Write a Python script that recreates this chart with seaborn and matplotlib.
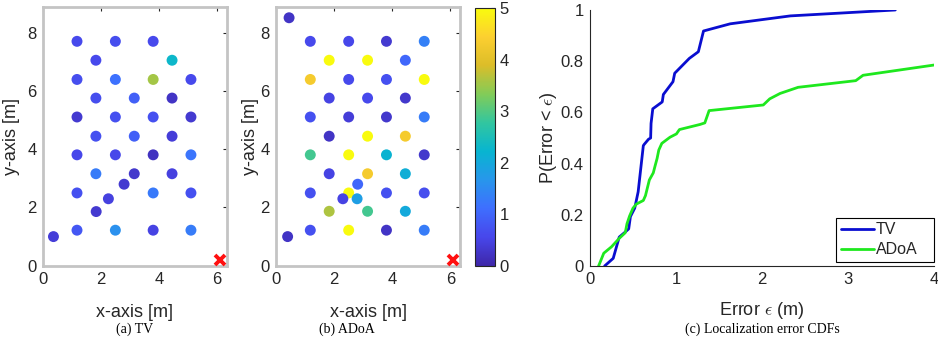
import numpy as np
import pandas as pd
import matplotlib
matplotlib.use("Agg")
import matplotlib.pyplot as plt
import seaborn as sns
from matplotlib.colors import LinearSegmentedColormap, Normalize
from matplotlib.cm import ScalarMappable

sns.set_theme(style="white")
plt.rcParams.update({
    'font.family': ['Liberation Sans', 'DejaVu Sans'],
    'font.size': 12,
    'axes.labelsize': 13,
    'xtick.labelsize': 12,
    'ytick.labelsize': 12,
    'text.color': '#262626',
    'axes.labelcolor': '#262626',
    'xtick.color': '#262626',
    'ytick.color': '#262626',
    'xtick.direction': 'in',
    'ytick.direction': 'in',
    'mathtext.fontset': 'cm',
})

# parula-like colormap (10 anchors)
parula_anchors = [
    (0.2422, 0.1504, 0.6603), (0.2803, 0.2782, 0.9221), (0.2440, 0.4358, 0.9988),
    (0.1540, 0.5902, 0.9218), (0.0297, 0.7082, 0.8163), (0.1938, 0.7758, 0.6251),
    (0.5044, 0.7993, 0.3480), (0.8634, 0.7406, 0.1596), (0.9892, 0.8136, 0.1885),
    (0.9763, 0.9831, 0.0538),
]
parula = LinearSegmentedColormap.from_list('parula', parula_anchors)

# TV: test positions and localisation error (m)
tv_x = [1.18, 2.50, 3.80, 1.83, 4.45, 1.18, 2.50, 3.80, 5.10, 1.83, 3.15, 4.45,
        1.18, 2.50, 3.80, 5.10, 1.83, 3.15, 4.45, 1.18, 2.50, 3.80, 5.10,
        1.83, 3.15, 4.45, 1.18, 3.80, 5.10, 2.80, 2.26, 1.84, 0.37,
        1.18, 2.50, 3.80, 5.10]
tv_y = [7.71, 7.71, 7.71, 7.06, 7.06, 6.40, 6.40, 6.40, 6.40, 5.76, 5.76, 5.76,
        5.11, 5.11, 5.11, 5.11, 4.45, 4.45, 4.45, 3.81, 3.81, 3.81, 3.81,
        3.16, 3.16, 3.16, 2.50, 2.50, 2.50, 2.80, 2.30, 1.86, 1.00,
        1.22, 1.22, 1.22, 1.22]
tv_err = [0.6, 0.65, 0.6, 0.6, 2.3, 0.65, 1.15, 3.55, 0.6, 0.65, 0.9, 0.25,
          0.35, 0.7, 0.7, 0.35, 0.7, 0.9, 0.4, 0.55, 0.55, 0.2, 1.2,
          1.3, 0.3, 0.45, 0.7, 1.25, 0.7, 0.35, 0.45, 0.35, 0.4,
          0.8, 1.6, 0.5, 1.3]

# ADoA: test positions and localisation error (m)
adoa_x = [0.45, 1.18, 2.50, 3.80, 5.10, 1.83, 3.15, 4.45, 1.18, 2.50, 3.80, 5.10,
          1.83, 3.15, 4.45, 1.18, 2.50, 3.80, 5.10, 1.83, 3.15, 4.45,
          1.18, 2.50, 3.80, 5.10, 1.83, 3.15, 4.45, 1.18, 2.50, 3.80, 5.10,
          2.81, 2.30, 2.79, 1.83, 3.15, 4.45, 1.18, 2.50, 3.80, 5.10, 0.40]
adoa_y = [8.52, 7.71, 7.71, 7.71, 7.71, 7.06, 7.06, 7.06, 6.40, 6.40, 6.40, 6.40,
          5.76, 5.76, 5.76, 5.11, 5.11, 5.11, 5.11, 4.45, 4.45, 4.45,
          3.81, 3.81, 3.81, 3.81, 3.16, 3.16, 3.16, 2.50, 2.50, 2.50, 2.50,
          2.80, 2.30, 2.30, 1.87, 1.87, 1.87, 1.22, 1.22, 1.22, 1.22, 1.00]
adoa_err = [0.25, 0.6, 0.55, 0.35, 1.35, 5.0, 5.0, 1.0, 4.3, 0.6, 0.7, 5.0,
            0.5, 0.6, 0.3, 0.7, 0.4, 0.3, 1.3, 0.25, 5.0, 4.3,
            2.9, 5.0, 2.2, 0.3, 0.5, 4.3, 2.1, 0.7, 5.0, 0.7, 0.65,
            1.0, 0.5, 1.8, 3.6, 2.9, 2.0, 0.7, 5.0, 0.25, 1.3, 0.25]

anchor_x = 6.1
anchor_y = 0.2

# CDF curves (error, probability)
tv_cdf_x = [0.17, 0.27, 0.34, 0.40, 0.45, 0.47, 0.52, 0.535, 0.56, 0.58, 0.62, 0.63,
            0.68, 0.705, 0.71, 0.73, 0.84, 0.853, 0.965, 0.985, 1.155, 1.26, 1.32,
            1.63, 2.33, 3.55]
tv_cdf_y = [0.0, 0.03, 0.113, 0.13, 0.145, 0.193, 0.226, 0.25, 0.29, 0.35, 0.47, 0.475,
            0.495, 0.50, 0.557, 0.614, 0.641, 0.67, 0.72, 0.753, 0.811, 0.837, 0.918,
            0.946, 0.977, 1.0]
adoa_cdf_x = [0.10, 0.16, 0.25, 0.34, 0.41, 0.43, 0.46, 0.50, 0.54, 0.62, 0.645, 0.69,
              0.736, 0.756, 0.78, 0.80, 0.835, 0.93, 1.005, 1.04, 1.28, 1.335, 1.385,
              2.015, 2.09, 2.21, 2.42, 3.09, 3.175, 4.0]
adoa_cdf_y = [0.0, 0.05, 0.075, 0.108, 0.13, 0.165, 0.195, 0.226, 0.242, 0.256, 0.275, 0.336,
              0.364, 0.39, 0.42, 0.453, 0.479, 0.503, 0.516, 0.533, 0.553, 0.559, 0.607,
              0.629, 0.653, 0.674, 0.698, 0.724, 0.745, 0.785]

W, H = 938, 338
fig = plt.figure(figsize=(W / 100, H / 100), dpi=100)


def px_axes(x0, y0, x1, y1):
    return fig.add_axes([x0 / W, 1 - y1 / H, (x1 - x0) / W, (y1 - y0) / H])


ax_a = px_axes(42.7, 6.7, 226.7, 265.7)
ax_b = px_axes(276.0, 6.7, 460.0, 265.7)
cax = px_axes(474.7, 8.0, 495.3, 265.7)
ax_c = px_axes(590.0, 10.0, 934.0, 266.0)

for ax, xs, ys, err, ypad in [(ax_a, tv_x, tv_y, tv_err, 5), (ax_b, adoa_x, adoa_y, adoa_err, 1)]:
    df = pd.DataFrame({'x': xs, 'y': ys, 'err': err})
    sns.scatterplot(data=df, x='x', y='y', hue='err', palette=parula, hue_norm=(0, 5),
                    s=62, linewidth=0, legend=False, ax=ax, zorder=3)
    ax.plot(anchor_x, anchor_y, 'x', color='#ff1010', markersize=7, mew=2.8, zorder=4,
            clip_on=False)
    ax.set_xlim(0, 6.33)
    ax.set_ylim(0, 8.9)
    ax.set_xticks([0, 2, 4, 6])
    ax.set_yticks([0, 2, 4, 6, 8])
    ax.set_xlabel('x-axis [m]', labelpad=12)
    ax.set_ylabel('y-axis [m]', labelpad=ypad)
    ax.tick_params(top=True, right=True, length=3, width=0.8, pad=4.5)
    for sp in ax.spines.values():
        sp.set_color('#c4c4c4')
        sp.set_linewidth(2)

cb = fig.colorbar(ScalarMappable(norm=Normalize(0, 5), cmap=parula), cax=cax)
cb.set_ticks([0, 1, 2, 3, 4, 5])
cb.ax.tick_params(direction='in', length=3, width=0.8, pad=3, labelsize=12)
cb.outline.set_edgecolor('#262626')
cb.outline.set_linewidth(0.8)

sns.lineplot(x=tv_cdf_x, y=tv_cdf_y, sort=False, estimator=None, color='#0a0ed0',
             linewidth=2.0, label='TV', ax=ax_c)
sns.lineplot(x=adoa_cdf_x, y=adoa_cdf_y, sort=False, estimator=None, color='#1ee81e',
             linewidth=2.0, label='ADoA', ax=ax_c)
ax_c.set_xlim(0, 4)
ax_c.set_ylim(0, 1)
ax_c.set_xticks([0, 1, 2, 3, 4])
ax_c.set_yticks([0, 0.2, 0.4, 0.6, 0.8, 1])
ax_c.set_yticklabels(['0', '0.2', '0.4', '0.6', '0.8', '1'])
ax_c.set_xlabel(r'Error $\epsilon$ (m)', labelpad=9)
ax_c.set_ylabel(r'P(Error < $\epsilon$)', labelpad=1.5)
ax_c.tick_params(length=4, width=0.8, pad=4.5)
ax_c.spines['top'].set_visible(False)
ax_c.spines['right'].set_visible(False)
for sp in ['left', 'bottom']:
    ax_c.spines[sp].set_color('#262626')
    ax_c.spines[sp].set_linewidth(0.8)
leg = ax_c.legend(loc='lower left', bbox_to_anchor=(0.715, 0.016, 0.285, 0.168), mode='expand',
                  borderaxespad=0, fancybox=False, framealpha=1, edgecolor='black',
                  handlelength=2.1, handletextpad=0.1, borderpad=0.3, labelspacing=0.3,
                  fontsize=11.5)
leg.get_frame().set_linewidth(0.8)

cap_kw = dict(family='Liberation Serif', fontsize=10, ha='center', va='center', color='black')
fig.text(135 / W, 1 - 329 / H, '(a) TV', **cap_kw)
fig.text(347 / W, 1 - 329 / H, '(b) ADoA', **cap_kw)
fig.text(762 / W, 1 - 329 / H, '(c) Localization error CDFs', **cap_kw)

fig.savefig('out.png', dpi=100)
